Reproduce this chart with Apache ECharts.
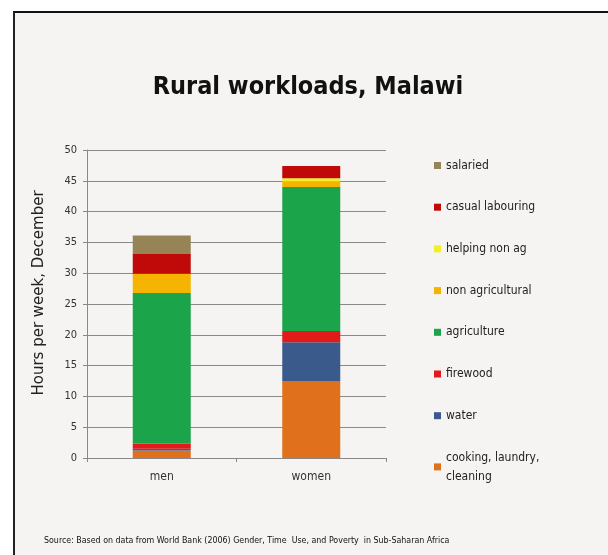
<!DOCTYPE html>
<html><head><meta charset="utf-8">
<script src="https://cdn.jsdelivr.net/npm/echarts@6/dist/echarts.min.js"></script>
<style>
html,body{margin:0;padding:0;background:#fff;}
#frame{position:absolute;left:13px;top:11px;width:595px;height:544px;border-top:2px solid #111;border-left:2px solid #222;background:#f5f4f2;box-sizing:border-box;}
#chart{position:absolute;left:0;top:0;width:608px;height:555px;}
</style></head>
<body>
<div id="frame"></div>
<div id="chart"></div>
<script>
const categories = ['men', 'women'];
const seriesNames = ['cooking, laundry, cleaning', 'water', 'firewood', 'agriculture', 'non agricultural', 'helping non ag', 'casual labouring', 'salaried'];
const cooking = [1.2, 12.5];
const water = [0.3, 6.3];
const firewood = [0.8, 1.8];
const agriculture = [24.5, 23.4];
const nonAgricultural = [3.1, 0.9];
const helpingNonAg = [0, 0.5];
const casualLabouring = [3.2, 2.0];
const salaried = [3.0, 0];
const yTicks = [0, 50, 5];
const legendOrder = ['salaried', 'casual labouring', 'helping non ag', 'non agricultural', 'agriculture', 'firewood', 'water', 'cooking, laundry, cleaning'];

const values = [cooking, water, firewood, agriculture, nonAgricultural, helpingNonAg, casualLabouring, salaried];
const colors = ['#e0701c', '#3b5a8c', '#e21a1a', '#1ba44a', '#f5b400', '#f0f02a', '#c00a0a', '#978456'];
const font = '"Liberation Sans Narrow", "DejaVu Sans Condensed", "Liberation Sans", sans-serif';

const chart = echarts.init(document.getElementById('chart'));
chart.setOption({
  backgroundColor: 'transparent',
  animation: false,
  title: {
    text: 'Rural workloads, Malawi',
    left: 303, textAlign: 'center', top: 70,
    textStyle: {fontFamily: font, fontSize: 25, fontWeight: 'bold', color: '#111'}
  },
  graphic: [{
    type: 'text', left: 44, top: 536,
    style: {text: 'Source: Based on data from World Bank (2006) Gender, Time  Use, and Poverty  in Sub-Saharan Africa', font: '8.8px ' + font, fill: '#111'}
  }],
  legend: {
    orient: 'vertical', left: 434, top: 156, height: 380, padding: 0,
    data: legendOrder, itemWidth: 7, itemHeight: 7, itemGap: 22.7,
    icon: 'rect',
    textStyle: {fontFamily: font, fontSize: 12, color: '#222', lineHeight: 19},
    formatter: n => n === 'cooking, laundry, cleaning' ? 'cooking, laundry,\ncleaning' : n
  },
  grid: {left: 87, right: 222, top: 150, bottom: 97},
  xAxis: {
    type: 'category', data: categories,
    axisLine: {lineStyle: {color: '#888'}},
    axisTick: {show: true, length: 4, lineStyle: {color: '#888'}},
    axisLabel: {fontFamily: font, fontSize: 12, color: '#333', margin: 13}
  },
  yAxis: {
    type: 'value', min: yTicks[0], max: yTicks[1], interval: yTicks[2],
    name: 'Hours per week, December', nameLocation: 'middle', nameGap: 40,
    nameTextStyle: {fontFamily: '"DejaVu Sans", sans-serif', fontSize: 15, color: '#222', padding: [0, 0, 0, 22]},
    axisLine: {show: true, lineStyle: {color: '#888'}},
    axisTick: {show: true, length: 4, lineStyle: {color: '#888'}},
    axisLabel: {fontFamily: font, fontSize: 11, color: '#333', margin: 10},
    splitLine: {lineStyle: {color: '#8a8a8a'}}
  },
  series: seriesNames.map((n, i) => ({
    name: n, type: 'bar', stack: 'total', barWidth: 58,
    data: values[i], itemStyle: {color: colors[i]}
  }))
});
</script>
</body></html>
